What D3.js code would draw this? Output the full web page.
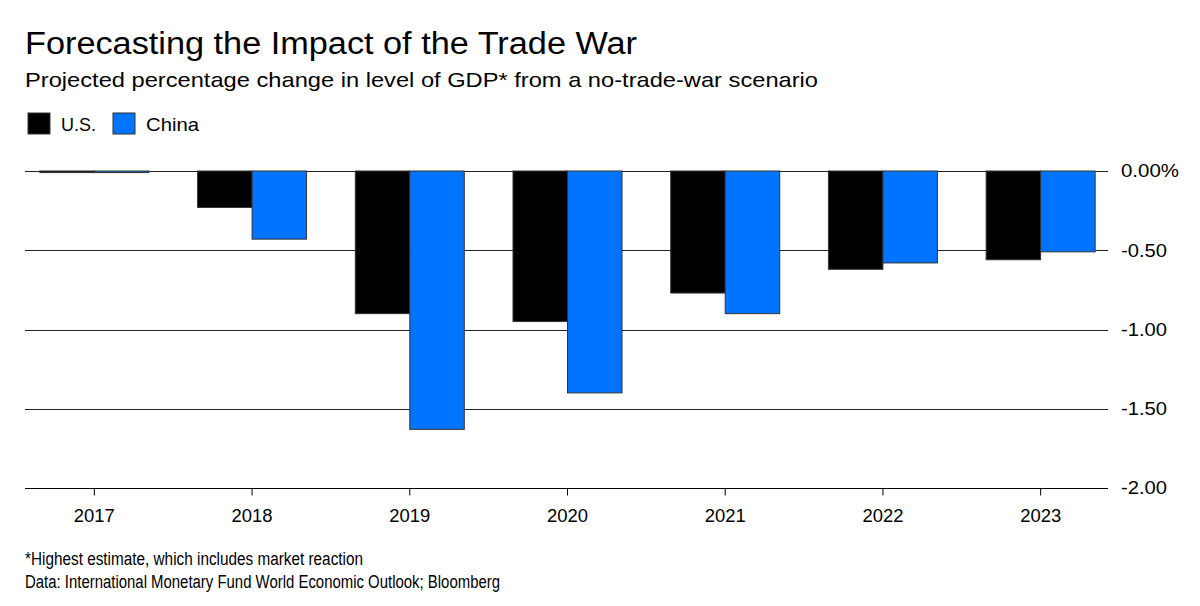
<!DOCTYPE html>
<html>
<head>
<meta charset="utf-8">
<script src="https://cdn.jsdelivr.net/npm/d3@7"></script>
<style>
  html, body { margin: 0; padding: 0; background: #fff; }
  svg { display: block; font-family: "Liberation Sans", Arial, Helvetica, sans-serif; }
</style>
</head>
<body>
<svg id="chart" width="1200" height="606"></svg>
<script>
const years = ["2017", "2018", "2019", "2020", "2021", "2022", "2023"];
const seriesNames = ["U.S.", "China"];
const usValues = [-0.01, -0.23, -0.90, -0.95, -0.77, -0.62, -0.56];
const chinaValues = [-0.01, -0.43, -1.63, -1.40, -0.90, -0.58, -0.51];
const yTicks = [0, -0.5, -1.0, -1.5, -2.0];
const yTickLabels = ["0.00%", "-0.50", "-1.00", "-1.50", "-2.00"];
const colors = ["#000000", "#0073ff"];

const svg = d3.select("#chart");

// Titles
svg.append("text").attr("x", 25).attr("y", 54)
  .attr("font-size", 31).attr("fill", "#000")
  .attr("textLength", 612).attr("lengthAdjust", "spacingAndGlyphs")
  .text("Forecasting the Impact of the Trade War");
svg.append("text").attr("x", 25).attr("y", 87)
  .attr("font-size", 21).attr("fill", "#000")
  .attr("textLength", 793).attr("lengthAdjust", "spacingAndGlyphs")
  .text("Projected percentage change in level of GDP* from a no-trade-war scenario");

// Legend
const legend = svg.append("g");
const legX = [28, 113];
const legW = [35, 53];
seriesNames.forEach((n, i) => {
  legend.append("rect").attr("x", legX[i]).attr("y", 113).attr("width", 22).attr("height", 21)
    .attr("fill", colors[i]).attr("stroke", "#333").attr("stroke-width", 1);
  legend.append("text").attr("x", legX[i] + 33).attr("y", 131)
    .attr("font-size", 19).attr("fill", "#000")
    .attr("textLength", legW[i]).attr("lengthAdjust", "spacingAndGlyphs").text(n);
});

// Scales
const x = d3.scaleBand().domain(years).range([15.5, 1119.5]).padding(0);
const step = x.step();
const barW = 54.5;
const xs = d3.scaleBand().domain(seriesNames)
  .range([step / 2 - barW, step / 2 + barW]).padding(0);
const y = d3.scaleLinear().domain([0, -2]).range([171, 488]);

const plotLeft = 25, plotRight = 1108;

// Gridlines
svg.append("g").selectAll("line").data(yTicks.slice(0, 4)).join("line")
  .attr("x1", plotLeft).attr("x2", plotRight)
  .attr("y1", d => Math.round(y(d)) + 0.5).attr("y2", d => Math.round(y(d)) + 0.5)
  .attr("stroke", "#222").attr("stroke-width", 1);

// Bars
const groups = svg.append("g").selectAll("g").data(years).join("g")
  .attr("transform", d => `translate(${x(d)},0)`);
groups.selectAll("rect")
  .data((d, i) => [
    { s: "U.S.", v: usValues[i], c: colors[0] },
    { s: "China", v: chinaValues[i], c: colors[1] }
  ])
  .join("rect")
  .attr("x", d => xs(d.s))
  .attr("width", xs.bandwidth())
  .attr("y", d => y(0))
  .attr("height", d => Math.max(1, y(d.v) - y(0)))
  .attr("fill", d => d.c)
  .attr("stroke", "#333").attr("stroke-width", 1);

// Bottom axis
svg.append("line").attr("x1", plotLeft).attr("x2", plotRight)
  .attr("y1", Math.round(y(-2)) + 0.5).attr("y2", Math.round(y(-2)) + 0.5)
  .attr("stroke", "#000").attr("stroke-width", 1.2);

const xAxis = d3.axisBottom(x).tickSize(7).tickSizeOuter(0).tickPadding(14);
const gx = svg.append("g").attr("transform", `translate(0,${Math.round(y(-2)) + 0.5})`).call(xAxis);
gx.select(".domain").remove();
gx.selectAll(".tick line").attr("stroke", "#000");
gx.selectAll(".tick text").attr("font-size", 18).attr("fill", "#000")
  .attr("font-family", "Liberation Sans, Arial, sans-serif")
  .attr("textLength", 41).attr("lengthAdjust", "spacingAndGlyphs");

// Right axis labels
const yAxis = d3.axisRight(y).tickValues(yTicks)
  .tickFormat((d, i) => yTickLabels[i]).tickSize(0).tickPadding(0);
const gy = svg.append("g").attr("transform", `translate(1121,0)`).call(yAxis);
gy.select(".domain").remove();
gy.selectAll(".tick text").attr("font-size", 18).attr("fill", "#000")
  .attr("font-family", "Liberation Sans, Arial, sans-serif")
  .attr("textLength", (d, i) => i === 0 ? 58 : 46).attr("lengthAdjust", "spacingAndGlyphs");

// Footnotes
svg.append("text").attr("x", 25).attr("y", 565).attr("font-size", 18)
  .attr("textLength", 338).attr("lengthAdjust", "spacingAndGlyphs")
  .text("*Highest estimate, which includes market reaction");
svg.append("text").attr("x", 25).attr("y", 588).attr("font-size", 18)
  .attr("textLength", 475).attr("lengthAdjust", "spacingAndGlyphs")
  .text("Data: International Monetary Fund World Economic Outlook; Bloomberg");
</script>
</body>
</html>
